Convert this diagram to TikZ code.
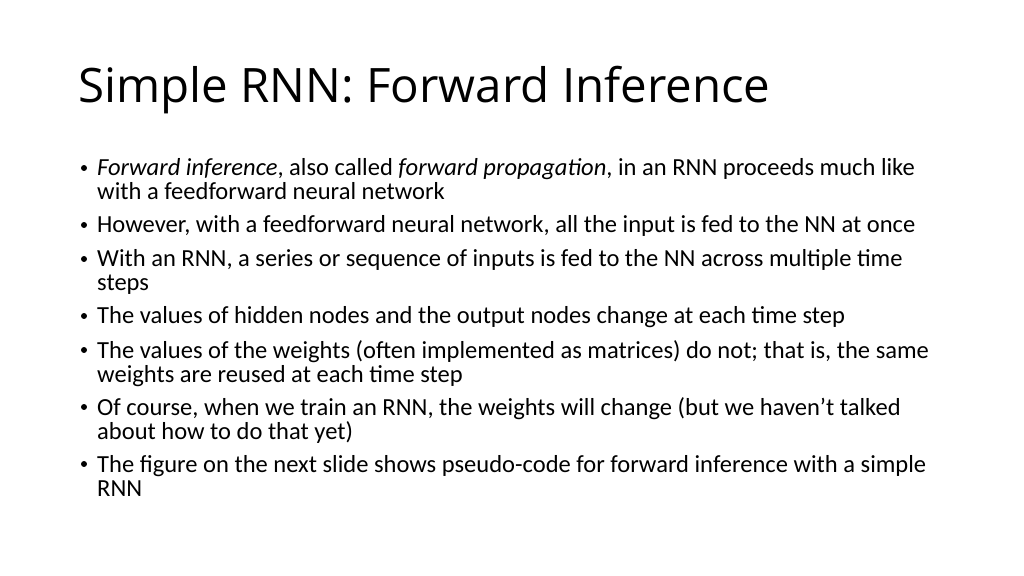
\documentclass[tikz,border=0pt]{standalone}
\usepackage{fontspec}
\setmainfont{Carlito}
\newfontfamily\titlefont{Open Sans}
\usetikzlibrary{positioning}

\begin{document}
\begin{tikzpicture}[x=0.9375pt,y=0.9375pt,
	line/.style={anchor=base west,inner sep=0pt,font=\fontsize{23}{27}\selectfont},
	dot/.style={circle,fill=black,inner sep=0pt,minimum size=5.6pt}]
		\useasboundingbox[fill=white] (0,0) rectangle (1024,575);
		\node[anchor=base west,inner sep=0pt,font=\titlefont\fontsize{44.5}{52}\selectfont] (title) at (78,472) {Simple RNN: Forward Inference};
		%
		% bullet lines
		\foreach \y/\t in {
			399/{\textit{Forward inference}, also called \textit{forward propagation}, in an RNN proceeds much like},
			375/{with a feedforward neural network},
			342/{However, with a feedforward neural network, all the input is fed to the NN at once},
			308/{With an RNN, a series or sequence of inputs is fed to the NN across multiple time},
			284/{steps},
			251/{The values of hidden nodes and the output nodes change at each time step},
			217/{The values of the weights (often implemented as matrices) do not; that is, the same},
			193/{weights are reused at each time step},
			160/{Of course, when we train an RNN, the weights will change (but we haven’t talked},
			136/{about how to do that yet)},
			103/{The figure on the next slide shows pseudo-code for forward inference with a simple},
			79/{RNN}}
		\node[line] at (97,\y) {\t};
		%
		% bullets
		\foreach \y in {399,342,308,251,217,160,103}
		\node[dot] at (84,\y+8) {};
	\end{tikzpicture}
\end{document}
